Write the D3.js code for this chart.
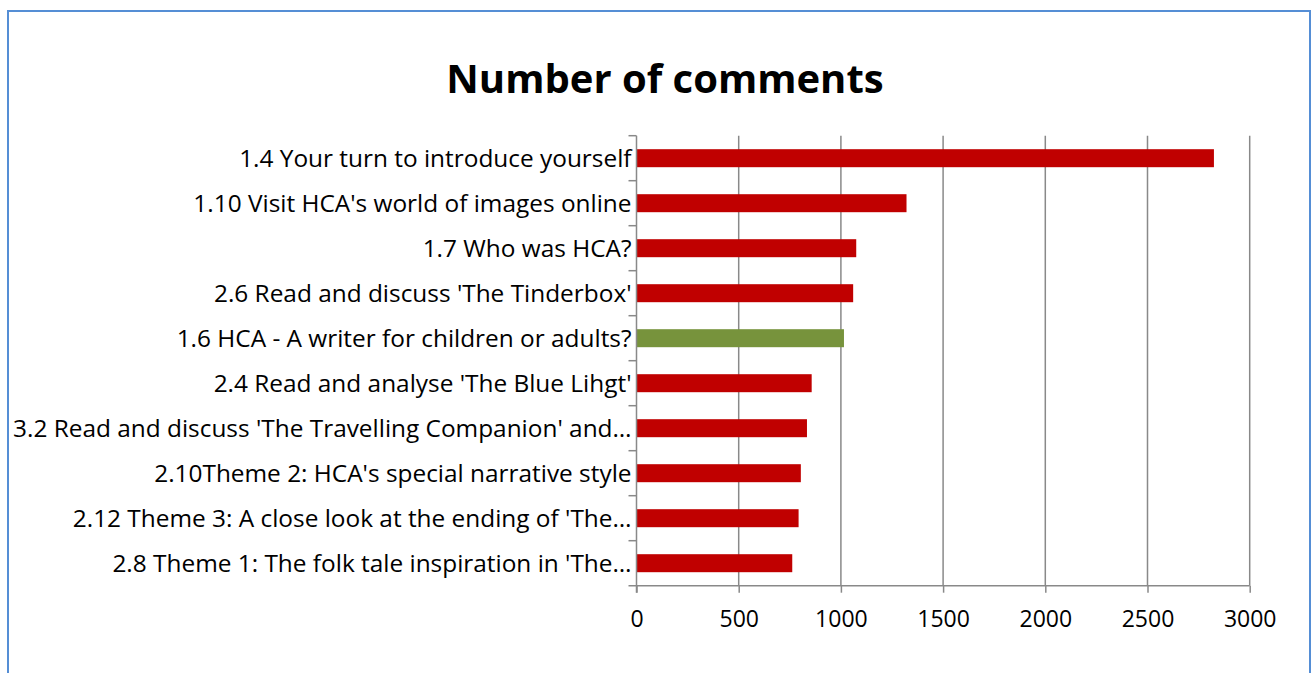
<!DOCTYPE html>
<html>
<head>
<meta charset="utf-8">
<script src="https://cdn.jsdelivr.net/npm/d3@7"></script>
<style>
  body { margin: 0; background: #fff; }
  svg { display: block; }
  text { font-family: "Open Sans", Lato, sans-serif; fill: #000; }
</style>
</head>
<body>
<div id="chart"></div>
<script>
// Chart data, top to bottom
const categories = [
  "1.4 Your turn to introduce yourself",
  "1.10 Visit HCA's world of images online",
  "1.7 Who was HCA?",
  "2.6 Read and discuss 'The Tinderbox'",
  "1.6 HCA - A writer for children or adults?",
  "2.4 Read and analyse 'The Blue Lihgt'",
  "3.2 Read and discuss 'The Travelling Companion' and\u2026",
  "2.10Theme 2: HCA's special narrative style",
  "2.12 Theme 3: A close look at the ending of 'The\u2026",
  "2.8 Theme 1: The folk tale inspiration in 'The\u2026"
];
const comments = [2825, 1321, 1075, 1060, 1015, 857, 834, 804, 793, 762];
const highlighted = ["1.6 HCA - A writer for children or adults?"];
const xTicks = [0, 500, 1000, 1500, 2000, 2500, 3000];

const width = 1312, height = 673;
const margin = {top: 135.7, left: 636.5, right: 62.3, bottom: 87.3};
const innerWidth = width - margin.left - margin.right;
const innerHeight = height - margin.top - margin.bottom;

const svg = d3.select("#chart").append("svg")
  .attr("width", width)
  .attr("height", height);

// outer frame
svg.append("rect")
  .attr("x", 8).attr("y", 11)
  .attr("width", 1302).attr("height", 700)
  .attr("fill", "none")
  .attr("stroke", "#558ed5")
  .attr("stroke-width", 2);

svg.append("text")
  .attr("x", 665).attr("y", 93)
  .attr("text-anchor", "middle")
  .style("font-size", "40px")
  .style("font-weight", "bold")
  .text("Number of comments");

const g = svg.append("g")
  .attr("transform", `translate(${margin.left},${margin.top})`);

const x = d3.scaleLinear().domain([0, 3000]).range([0, innerWidth]);
const y = d3.scaleBand().domain(categories).range([0, innerHeight]).paddingInner(0.6).paddingOuter(0.3);

// vertical gridlines
g.append("g")
  .selectAll("line")
  .data(xTicks.slice(1))
  .join("line")
  .attr("x1", d => x(d)).attr("x2", d => x(d))
  .attr("y1", 0).attr("y2", innerHeight)
  .attr("stroke", "#898989")
  .attr("stroke-width", 1.5);

// bars
g.append("g")
  .selectAll("rect")
  .data(categories)
  .join("rect")
  .attr("x", 0)
  .attr("y", d => y(d))
  .attr("width", (d, i) => x(comments[i]))
  .attr("height", y.bandwidth())
  .attr("fill", d => highlighted.includes(d) ? "#77933c" : "#c00000");

// category axis: ticks between bands
const step = innerHeight / categories.length;
const catAxis = g.append("g");
catAxis.append("line")
  .attr("x1", 0).attr("x2", 0)
  .attr("y1", 0).attr("y2", innerHeight + 7)
  .attr("stroke", "#898989").attr("stroke-width", 1.5);
catAxis.selectAll("line.tick")
  .data(d3.range(categories.length))
  .join("line")
  .attr("class", "tick")
  .attr("x1", -8).attr("x2", 0)
  .attr("y1", i => i * step).attr("y2", i => i * step)
  .attr("stroke", "#898989").attr("stroke-width", 1.5);
catAxis.selectAll("text")
  .data(categories)
  .join("text")
  .attr("x", -5)
  .attr("y", d => y(d) + y.bandwidth() / 2)
  .attr("dy", "0.35em")
  .attr("text-anchor", "end")
  .style("font-size", "24.4px")
  .text(d => d);

// value axis
const xAxis = g.append("g")
  .attr("transform", `translate(0,${innerHeight})`)
  .call(d3.axisBottom(x).tickValues(xTicks).tickSize(7).tickSizeOuter(0).tickPadding(18).tickFormat(d3.format("d")));
xAxis.select(".domain").remove();
xAxis.append("line")
  .attr("x1", -8).attr("x2", innerWidth)
  .attr("stroke", "#898989").attr("stroke-width", 1.5);
xAxis.selectAll(".tick line").attr("stroke", "#898989").attr("stroke-width", 1.5);
xAxis.selectAll(".tick text")
  .style("font-size", "23px")
  .style("font-family", "'Open Sans', Lato, sans-serif")
  .attr("fill", "#000");
</script>
</body>
</html>
